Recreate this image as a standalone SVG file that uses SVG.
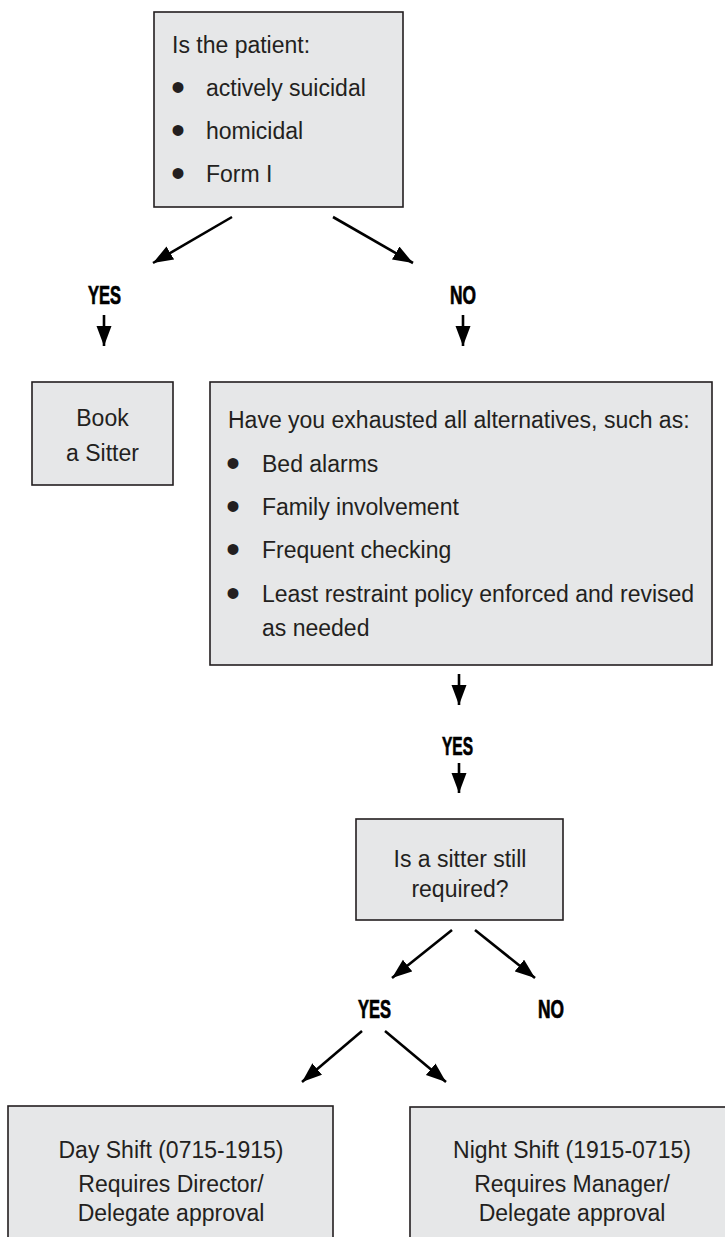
<svg xmlns="http://www.w3.org/2000/svg" width="725" height="1237" viewBox="0 0 725 1237">
<style>
.box{fill:#E6E7E8;stroke:#231F20;stroke-width:1.6}
.t{font-family:"Liberation Sans",Arial,sans-serif;font-size:23px;fill:#231F20}
.c{text-anchor:middle}
.b{font-family:"Liberation Sans",Arial,sans-serif;font-size:40px;fill:#231F20;text-anchor:middle}
.lbl{font-family:"Liberation Sans",Arial,sans-serif;font-size:25px;font-weight:bold;fill:#000;stroke:#000;stroke-width:0.7}
.con line{stroke:#000;stroke-width:2.6;marker-end:url(#ah)}
</style>
<defs>
<marker id="ah" markerUnits="userSpaceOnUse" markerWidth="22" markerHeight="16" refX="20" refY="7.5" orient="auto">
<path d="M0,0 L20,7.5 L0,15 z" fill="#000"/>
</marker>
</defs>
<rect width="725" height="1237" fill="#fff"/>
<g id="n-patient">
<rect class="box" x="154" y="12" width="249" height="195"/>
<text class="t" x="172" y="53">Is the patient:</text>
<text class="b" x="178" y="101">•</text><text class="t" x="206" y="96">actively suicidal</text>
<text class="b" x="178" y="144">•</text><text class="t" x="206" y="139">homicidal</text>
<text class="b" x="178" y="187">•</text><text class="t" x="206" y="182">Form I</text>
</g>
<g id="n-book">
<rect class="box" x="32" y="382" width="141" height="103"/>
<text class="t c" x="102.5" y="426">Book</text>
<text class="t c" x="102.5" y="461">a Sitter</text>
</g>
<g id="n-alternatives">
<rect class="box" x="210" y="382" width="502" height="283"/>
<text class="t" x="228" y="428">Have you exhausted all alternatives, such as:</text>
<text class="b" x="233" y="477">•</text><text class="t" x="262" y="472">Bed alarms</text>
<text class="b" x="233" y="520">•</text><text class="t" x="262" y="515">Family involvement</text>
<text class="b" x="233" y="563">•</text><text class="t" x="262" y="558">Frequent checking</text>
<text class="b" x="233" y="607">•</text><text class="t" x="262" y="602">Least restraint policy enforced and revised</text>
<text class="t" x="262" y="636">as needed</text>
</g>
<g id="n-sitter">
<rect class="box" x="356" y="819" width="207" height="101"/>
<text class="t c" x="460" y="867">Is a sitter still</text>
<text class="t c" x="460" y="897">required?</text>
</g>
<g id="n-day">
<rect class="box" x="8" y="1106" width="325" height="140"/>
<text class="t c" x="171" y="1158">Day Shift (0715-1915)</text>
<text class="t c" x="171" y="1192">Requires Director/</text>
<text class="t c" x="171" y="1221">Delegate approval</text>
</g>
<g id="n-night">
<rect class="box" x="410" y="1107" width="330" height="140"/>
<text class="t c" x="572" y="1158">Night Shift (1915-0715)</text>
<text class="t c" x="572" y="1192">Requires Manager/</text>
<text class="t c" x="572" y="1221">Delegate approval</text>
</g>
<g id="labels">
<text class="lbl" x="88" y="304" textLength="33" lengthAdjust="spacingAndGlyphs">YES</text>
<text class="lbl" x="450" y="304" textLength="26" lengthAdjust="spacingAndGlyphs">NO</text>
<text class="lbl" x="442" y="755" textLength="31" lengthAdjust="spacingAndGlyphs">YES</text>
<text class="lbl" x="358" y="1018" textLength="33" lengthAdjust="spacingAndGlyphs">YES</text>
<text class="lbl" x="538" y="1018" textLength="26" lengthAdjust="spacingAndGlyphs">NO</text>
</g>
<g id="connectors" class="con">
<line x1="232" y1="217" x2="153" y2="263"/>
<line x1="333" y1="217" x2="413" y2="263"/>
<line x1="104" y1="315" x2="104" y2="346"/>
<line x1="463" y1="315" x2="463" y2="346"/>
<line x1="459" y1="674" x2="459" y2="705"/>
<line x1="459" y1="763" x2="459" y2="793"/>
<line x1="452" y1="930" x2="392" y2="978"/>
<line x1="475" y1="930" x2="535" y2="978"/>
<line x1="362" y1="1031" x2="302" y2="1082"/>
<line x1="385" y1="1031" x2="446" y2="1082"/>
</g>
</svg>
